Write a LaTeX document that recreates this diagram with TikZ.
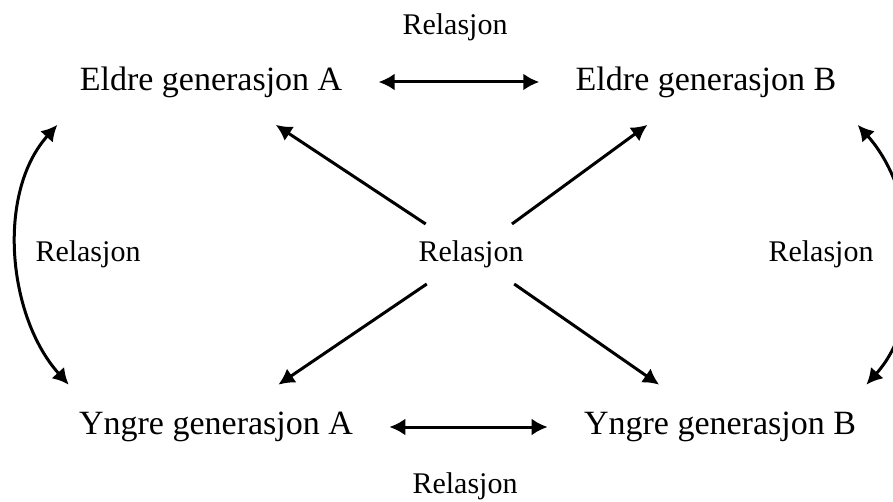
\documentclass[tikz,border=0pt]{standalone}
\usepackage{fontspec}
\setmainfont{Liberation Serif}
\usetikzlibrary{arrows.meta}

\begin{document}
\begin{tikzpicture}[x=0.5pt,y=-0.5pt,
  gen/.style={inner xsep=18pt,inner ysep=13.5pt,font=\fontsize{17}{20}\selectfont},
  rel/.style={inner xsep=2pt,inner ysep=8pt,font=\fontsize{15}{18}\selectfont},
  both/.style={{Latex[length=8pt,width=8.5pt]}-{Latex[length=8pt,width=8.5pt]},line width=1.5pt},
  arrow/.style={-{Latex[length=8pt,width=8.5pt]},line width=1.5pt}]
  \useasboundingbox (0,0) rectangle (893,502);
  \node[gen] (ea) at (211,82) {Eldre generasjon A};
  \node[gen] (eb) at (706,82) {Eldre generasjon B};
  \node[gen] (ya) at (216,427) {Yngre generasjon A};
  \node[gen] (yb) at (720,427) {Yngre generasjon B};
  \node[rel] (mid) at (471,254) {Relasjon};
  \node[rel] (toprel) at (455,27) {Relasjon};
  \node[rel] (botrel) at (465,486) {Relasjon};
  \node[rel] (leftrel) at (88,254) {Relasjon};
  \node[rel] (rightrel) at (821,254) {Relasjon};
  % same generation
  \draw[both] (ea) -- (eb);
  \draw[both] (ya) -- (yb);
  % across generations
  \draw[both] ([xshift=7pt]ea.south west) to[out=228,in=132,looseness=0.9] ([xshift=13pt]ya.north west);
  \draw[both] ([xshift=-7.5pt]eb.south east) to[out=-48,in=48,looseness=0.9] ([xshift=-13pt]yb.north east);
  \draw[arrow] (mid) -- (ea);
  \draw[arrow] (mid) -- (eb);
  \draw[arrow] (mid) -- (ya);
  \draw[arrow] (mid) -- (yb);
\end{tikzpicture}
\end{document}
